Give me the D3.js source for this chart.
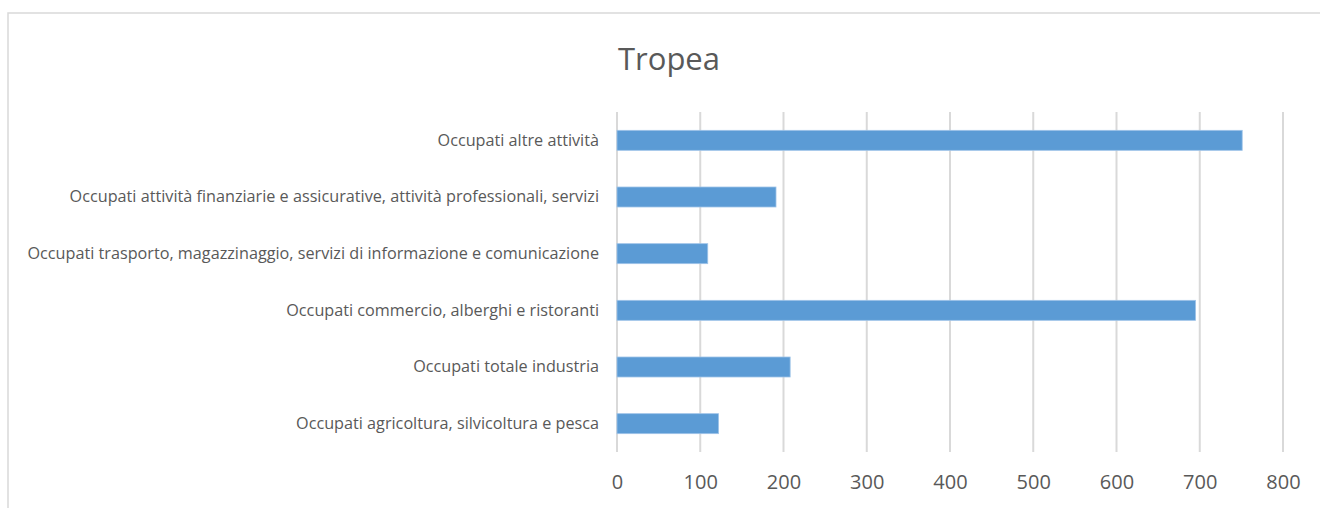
<!DOCTYPE html>
<html>
<head>
<meta charset="utf-8">
<script src="https://cdn.jsdelivr.net/npm/d3@7"></script>
<style>
  html, body { margin: 0; padding: 0; background: #fff; }
  svg { display: block; }
  text { font-family: "Open Sans", "Noto Sans", sans-serif; fill: #595959; }
</style>
</head>
<body>
<div id="chart"></div>
<script>
// data
var chartTitle = 'Tropea';
var categories = [
  'Occupati altre attività',
  'Occupati attività finanziarie e assicurative, attività professionali, servizi',
  'Occupati trasporto, magazzinaggio, servizi di informazione e comunicazione',
  'Occupati commercio, alberghi e ristoranti',
  'Occupati totale industria',
  'Occupati agricoltura, silvicoltura e pesca'
];
var values = [751, 191, 109, 695, 208, 122];
var tickValues = [0, 100, 200, 300, 400, 500, 600, 700, 800];

var width = 1320;
var height = 508;
var plotLeft = 617, plotRight = 1283;
var plotTop = 112, plotBottom = 452;

var svg = d3.select('#chart')
  .append('svg')
  .attr('width', width)
  .attr('height', height);

// chart frame (only left + top edges are inside the picture)
svg.append('path')
  .attr('d', 'M8,' + height + 'V13H' + width)
  .attr('fill', 'none')
  .attr('stroke', '#d9d9d9')
  .attr('stroke-width', 1.5);

var x = d3.scaleLinear()
  .domain([0, 800])
  .range([plotLeft, plotRight]);

var y = d3.scaleBand()
  .domain(categories)
  .range([plotTop, plotBottom])
  .paddingInner(0.647)
  .paddingOuter(0.3235);

// gridlines
svg.append('g')
  .selectAll('line')
  .data(tickValues)
  .enter()
  .append('line')
  .attr('x1', function(d) { return x(d); })
  .attr('x2', function(d) { return x(d); })
  .attr('y1', plotTop)
  .attr('y2', plotBottom)
  .attr('stroke', '#d9d9d9')
  .attr('stroke-width', 2);

// bars
svg.append('g')
  .selectAll('rect')
  .data(values)
  .enter()
  .append('rect')
  .attr('x', x(0))
  .attr('y', function(d, i) { return y(categories[i]); })
  .attr('width', function(d) { return x(d) - x(0); })
  .attr('height', y.bandwidth())
  .attr('fill', '#5b9bd5')
  .attr('stroke', '#9fc4e8')
  .attr('stroke-width', 0.8);

// x axis labels
var xAxis = d3.axisBottom(x)
  .tickValues(tickValues)
  .tickSize(0)
  .tickPadding(0)
  .tickFormat(d3.format('d'));

var xg = svg.append('g')
  .attr('transform', 'translate(0,' + 475 + ')')
  .call(xAxis);
xg.select('.domain').remove();
xg.selectAll('text')
  .attr('dy', '0.71em')
  .style('font-family', '"Open Sans", sans-serif')
  .style('font-size', '20px')
  .style('fill', '#595959');

// category labels, font fitted so the longest one spans the same width
var probe = svg.append('text').style('font-size', '100px')
  .text(categories[2]);
var w100 = probe.node().getComputedTextLength();
probe.remove();
var labelSize = 100 * 572 / w100;

var yAxis = d3.axisLeft(y).tickSize(0).tickPadding(0);
var yg = svg.append('g')
  .attr('transform', 'translate(' + 599 + ',0)')
  .call(yAxis);
yg.select('.domain').remove();
yg.selectAll('text')
  .style('font-family', '"Open Sans", sans-serif')
  .style('font-size', labelSize + 'px')
  .style('fill', '#595959');

// title
svg.append('text')
  .attr('x', 669)
  .attr('y', 70)
  .attr('text-anchor', 'middle')
  .style('font-size', '31px')
  .text(chartTitle);
</script>
</body>
</html>
